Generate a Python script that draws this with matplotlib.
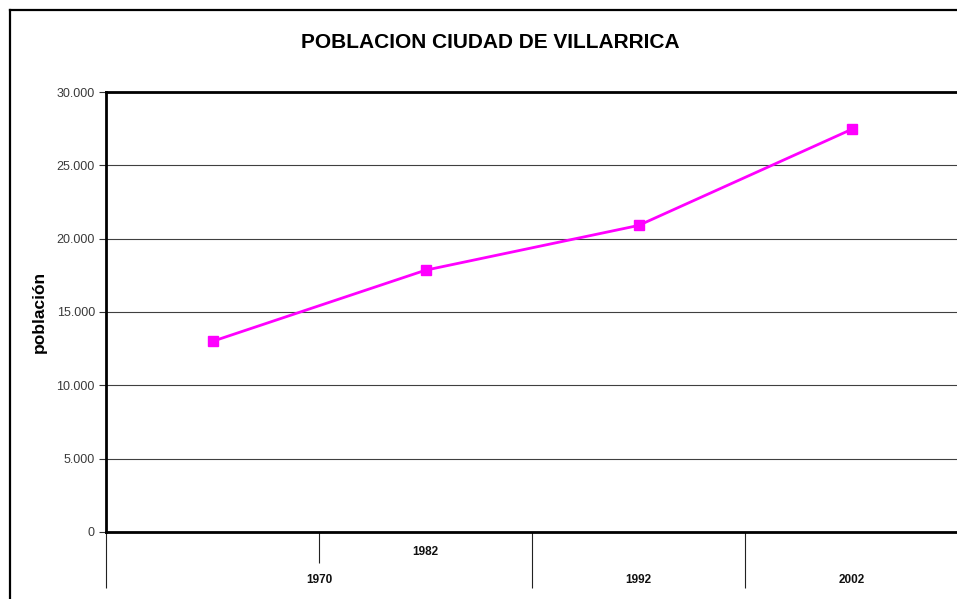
import matplotlib
matplotlib.use("Agg")
import matplotlib.pyplot as plt
from matplotlib.lines import Line2D
from matplotlib.ticker import FuncFormatter, FixedLocator
import matplotlib.transforms as mtransforms

plt.rcParams['font.family'] = ['Liberation Sans', 'DejaVu Sans']

# ---- data ----
categories = ["1970", "1982", "1992", "2002"]
poblacion = [13000, 17850, 20900, 27450]
title = "POBLACION CIUDAD DE VILLARRICA"
ylabel = "población"
yticks = [0, 5000, 10000, 15000, 20000, 25000, 30000]

fig = plt.figure(figsize=(9.57, 5.99), dpi=100)
W, H = 957, 599
ax = fig.add_axes([106 / W, (H - 532) / H, (958 - 106) / W, 440 / H])

x = [i + 0.5 for i in range(len(categories))]
ax.plot(x, poblacion, color="#FF00FF", lw=2, marker="s", markersize=7,
        markerfacecolor="#FF00FF", markeredgecolor="#FF00FF", zorder=3, clip_on=False)

ax.set_xlim(0, len(categories))
ax.set_ylim(0, 30000)
ax.set_yticks(yticks)
ax.yaxis.set_major_formatter(FuncFormatter(lambda v, p: f"{int(v):,}".replace(",", ".")))
ax.tick_params(axis="y", length=5, width=0.8, color="#333333", labelsize=9,
               labelcolor="#3a3a3a", pad=3)
ax.grid(axis="y", color="#404040", lw=0.8)
ax.set_axisbelow(True)

# x-axis multi-level category ticks
ax.xaxis.set_major_locator(FixedLocator([0, 2, 3]))
ax.xaxis.set_minor_locator(FixedLocator([1]))
ax.tick_params(axis="x", which="major", length=40, width=0.8, color="#222222",
               labelbottom=False)
ax.tick_params(axis="x", which="minor", length=22, width=0.8, color="#222222",
               labelbottom=False)

trans = mtransforms.blended_transform_factory(ax.transData, ax.transAxes)
offs_upper = mtransforms.offset_copy(trans, fig=fig, x=0, y=-20 * 72 / 100, units="points")
offs_lower = mtransforms.offset_copy(trans, fig=fig, x=0, y=-48 * 72 / 100, units="points")
# upper row: second category; lower row: group labels
ax.text(x[1], 0, categories[1], transform=offs_upper, ha="center", va="center",
        fontsize=8.5, fontweight="bold", color="#111111")
lower_pos = [1.0, x[2], x[3]]
for pos, lab in zip(lower_pos, [categories[0], categories[2], categories[3]]):
    ax.text(pos, 0, lab, transform=offs_lower, ha="center", va="center",
            fontsize=8.5, fontweight="bold", color="#111111")

for side in ["left", "bottom", "top"]:
    ax.spines[side].set_linewidth(2)
    ax.spines[side].set_color("black")
ax.spines["right"].set_visible(False)

fig.text(39 / W, (H - 312) / H, ylabel, rotation=90, ha="center", va="center",
         fontsize=12.5, fontweight="bold")

fig.text(490 / W, (H - 42) / H, title, ha="center", va="center",
         fontsize=15, fontweight="bold")

# chart area border (partly outside the image)
fig.add_artist(Line2D([10 / W, 10 / W], [0, (H - 10) / H], transform=fig.transFigure,
                      color="black", lw=1.6))
fig.add_artist(Line2D([10 / W, 1.0], [(H - 10) / H, (H - 10) / H], transform=fig.transFigure,
                      color="black", lw=1.6))

fig.savefig("out.png", dpi=100)
